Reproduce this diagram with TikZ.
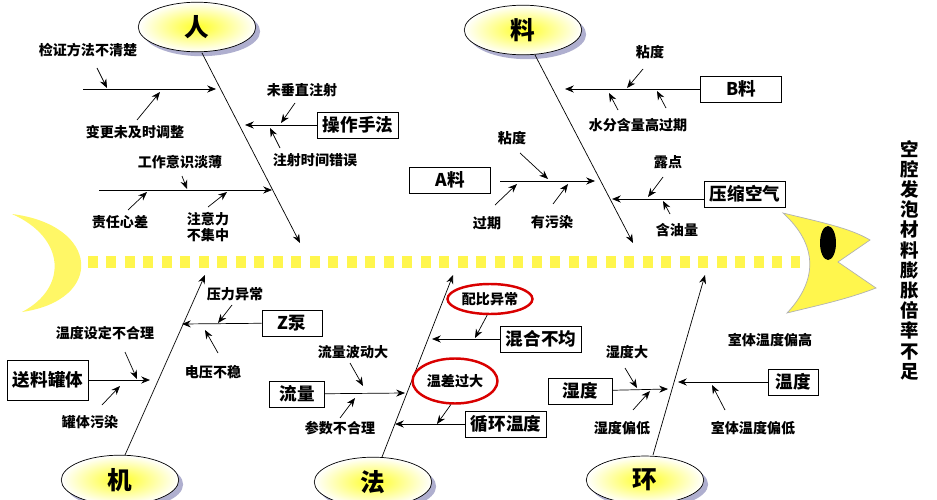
\documentclass[tikz,border=0pt]{standalone}
\usepackage{fontspec}
\setmainfont{Noto Sans CJK SC}
\usetikzlibrary{arrows.meta, positioning, shadows, shapes.geometric}

\begin{document}
\begin{tikzpicture}[x=0.02cm,y=-0.02cm,>={Stealth[length=5pt,width=4pt]},
	lbl/.style={font=\bfseries\fontsize{8}{9.5}\selectfont,inner sep=1pt,align=center},
	box/.style={draw,fill=white,font=\bfseries\fontsize{10}{11}\selectfont,minimum height=0.52cm,minimum width=1.62cm,inner sep=2pt},
	cat/.style={ellipse,draw,minimum width=2.35cm,minimum height=0.92cm,inner color=yellow!85,outer color=white,
		drop shadow={shadow xshift=2.5pt,shadow yshift=-2.5pt,fill=blue!25!gray},font=\bfseries\fontsize{14}{14}\selectfont},
	hot/.style={ellipse,draw=red!85!black,line width=1.4pt,inner sep=0pt,font=\bfseries\fontsize{8}{9.5}\selectfont},
	arr/.style={->,thin}]
	
	\useasboundingbox (0,0) rectangle (937,500);
	
	% spine, tail and head
	\fill [yellow!60] (12,214) .. controls (100,225) and (105,300) .. (22,312)
		.. controls (68,288) and (66,238) .. cycle;
	\draw [yellow!70, line width=0.24cm, dash pattern=on 0.2cm off 0.17cm] (88,262) -- (800,262);
	\fill [yellow!70, draw=gray!60, thin] (783,213) .. controls (820,222) and (850,228) .. (870,240)
		-- (838,262) -- (876,288) .. controls (845,300) and (815,306) .. (787,313)
		.. controls (818,280) and (818,245) .. cycle;
	\fill [black] (828,243) ellipse [x radius=8, y radius=17];
	\node (effect) [font=\bfseries\fontsize{10.5}{11.5}\selectfont, align=center] at (910,260)
		{空\\腔\\发\\泡\\材\\料\\膨\\胀\\倍\\率\\不\\足};
	
	% categories
	\node (ren) [cat] at (197,27) {人};
	\node (liao) [cat] at (523,30) {料};
	\node (ji) [cat] at (120,480) {机};
	\node (fa) [cat] at (373,482) {法};
	\node (huan) [cat] at (645,480) {环};
	
	\coordinate (renE) at (300,243);
	\coordinate (liaoE) at (633,243);
	\coordinate (jiE) at (205,275);
	\coordinate (faE) at (453,275);
	\coordinate (huanE) at (705,275);
	
	\draw [arr] (202,53) -- (renE);
	\draw [arr] (535,55) -- (liaoE);
	\draw [arr] (125,455) -- (jiE);
	\draw [arr] (382,457) -- (faE);
	\draw [arr] (653,455) -- (huanE);
	
	% ren
	\node (r1) [lbl] at (88,50) {检证方法不清楚};
	\node (r2) [lbl] at (135,132) {变更未及时调整};
	\node (caozuo) [box] at (358,125) {操作手法};
	\node (r3) [lbl] at (302,90) {未垂直注射};
	\node (r4) [lbl] at (315,160) {注射时间错误};
	\node (r5) [lbl] at (180,162) {工作意识淡薄};
	\node (r6) [lbl] at (120,222) {责任心差};
	\node (r7) [lbl] at (208,227) {注意力\\不集中};
	
	\draw [arr] (83,89) -- (216,89);
	\draw [arr] (caozuo) -- (245,125);
	\draw [arr] (99,190) -- (272,190);
	\draw [arr] (97,68) -- (107,88);
	\draw [arr] (137,120) -- (160,92);
	\draw [arr] (295,103) -- (281,123);
	\draw [arr] (280,148) -- (270,128);
	\draw [arr] (182,176) -- (187,189);
	\draw [arr] (128,210) -- (147,192);
	\draw [arr] (208,207) -- (227,192);
	
	% liao
	\node (bliao) [box] at (741,89) {B料};
	\node (aliao) [box] at (450,180) {A料};
	\node (kongqi) [box] at (745,194) {压缩空气};
	\node (l1) [lbl] at (650,52) {粘度};
	\node (l2) [lbl] at (638,125) {水分含量高过期};
	\node (l3) [lbl] at (512,138) {粘度};
	\node (l4) [lbl] at (487,223) {过期};
	\node (l5) [lbl] at (552,222) {有污染};
	\node (l6) [lbl] at (668,162) {露点};
	\node (l7) [lbl] at (677,230) {含油量};
	
	\draw [arr] (bliao) -- (565,89);
	\draw [arr] (500,181) -- (595,181);
	\draw [arr] (kongqi.west |- 0,199) -- (612,199);
	\draw [arr] (643,69) -- (627,88);
	\draw [arr] (618,110) -- (609,93);
	\draw [arr] (666,108) -- (657,91);
	\draw [arr] (520,153) -- (548,179);
	\draw [arr] (495,205) -- (517,184);
	\draw [arr] (553,204) -- (568,184);
	\draw [arr] (663,177) -- (648,197);
	\draw [arr] (670,214) -- (663,201);
	
	% ji
	\node (zbeng) [box, minimum width=1.2cm] at (292,323) {Z泵};
	\node (guan) [box, minimum height=0.8cm] at (48,380) {送料罐体};
	\node (j1) [lbl] at (235,294) {压力异常};
	\node (j2) [lbl] at (213,372) {电压不稳};
	\node (j3) [lbl] at (105,333) {温度设定不合理};
	\node (j4) [lbl] at (90,422) {罐体污染};
	
	\draw [arr] (zbeng) -- (182,324);
	\draw [arr] (guan) -- (150,380);
	\draw [arr] (232,305) -- (218,323);
	\draw [arr] (218,353) -- (205,330);
	\draw [arr] (125,352) -- (137,379);
	\draw [arr] (102,405) -- (120,386);
	
	% fa
	\node (liuliang) [box, minimum width=1.1cm] at (297,394) {流量};
	\node (hunhe) [box] at (541,339) {混合不均};
	\node (xunhuan) [box] at (506,424) {循环温度};
	\node (f1) [lbl] at (353,352) {流量波动大};
	\node (f2) [lbl] at (340,428) {参数不合理};
	\node (peibi) [hot, minimum width=1.7cm, minimum height=0.6cm] at (490,299) {配比异常};
	\node (wencha) [hot, minimum width=1.7cm, minimum height=0.9cm] at (455,381) {温差过大};
	
	\draw [arr] (liuliang) -- (405,393);
	\draw [arr] (hunhe) -- (432,339);
	\draw [arr] (xunhuan) -- (395,424);
	\draw [arr] (350,363) -- (363,386);
	\draw [arr] (340,418) -- (355,398);
	\draw [arr] (peibi.-100) -- (475,338);
	\draw [arr] (wencha.-100) -- (437,424);
	
	% huan
	\node (shidu) [box, minimum width=1.28cm] at (580,391) {湿度};
	\node (wendu) [box, minimum width=1cm] at (793,382) {温度};
	\node (h1) [lbl] at (627,352) {湿度大};
	\node (h2) [lbl] at (622,428) {湿度偏低};
	\node (h3) [lbl] at (770,340) {室体温度偏高};
	\node (h4) [lbl] at (753,428) {室体温度偏低};
	
	\draw [arr] (shidu) -- (668,389);
	\draw [arr] (wendu) -- (678,382);
	\draw [arr] (625,368) -- (637,388);
	\draw [arr] (633,410) -- (650,391);
	\draw [arr] (725,410) -- (712,385);
	
\end{tikzpicture}
\end{document}
